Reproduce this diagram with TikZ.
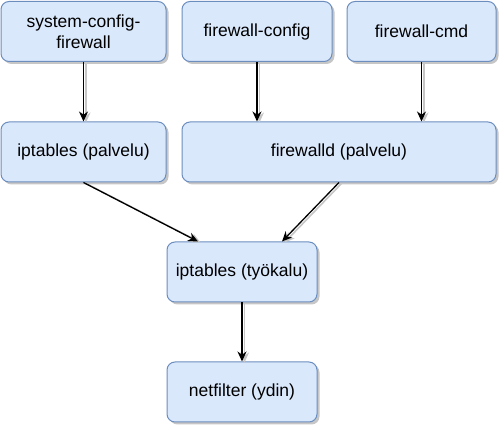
\documentclass[tikz,border=0pt]{standalone}
\usepackage{fontspec}
\setmainfont{Liberation Sans}
\usetikzlibrary{arrows.meta,shadows}
\definecolor{boxfill}{HTML}{DAE8FC}
\definecolor{boxline}{HTML}{6C8EBF}

\begin{document}
\begin{tikzpicture}[x=1pt,y=-1pt]
\tikzstyle{box}=[draw=boxline,fill=boxfill,rounded corners=8pt,line width=1pt,
  minimum height=60pt,inner sep=2pt,align=center,font=\fontsize{17.5}{20.5}\selectfont,
  drop shadow={shadow xshift=2.5pt,shadow yshift=-2.5pt,fill=gray!45,opacity=1}]
\tikzstyle{arr}=[-{Stealth[length=10pt,width=9pt]},line width=1.3pt,
  preaction={draw=gray!45,line width=1.6pt,transform canvas={xshift=2.5pt,yshift=-1pt}}]
\useasboundingbox (0,0) rectangle (504,430);
\node[box,minimum width=165pt] (scf) at (83.5,31.5) {system-config-\\firewall};
\node[box,minimum width=150pt] (fwconf) at (257,31.5) {firewall-config};
\node[box,minimum width=149pt] (fwcmd) at (421.5,31.5) {firewall-cmd};
\node[box,minimum width=165pt] (iptsvc) at (83.5,152) {iptables (palvelu)};
\node[box,minimum width=314pt] (fwd) at (339,152) {firewalld (palvelu)};
\node[box,minimum width=150pt] (ipttool) at (242,272) {iptables (työkalu)};
\node[box,minimum width=150pt] (nf) at (242,392) {netfilter (ydin)};
\draw[arr] (scf) -- (iptsvc);
\draw[arr] (fwconf) -- (fwconf|-fwd.north);
\draw[arr] (fwcmd) -- (fwcmd|-fwd.north);
\draw[arr] (iptsvc.south) -- ([xshift=-44pt]ipttool.north);
\draw[arr] (fwd.south) -- ([xshift=40pt]ipttool.north);
\draw[arr] (ipttool) -- (nf);
\end{tikzpicture}
\end{document}
